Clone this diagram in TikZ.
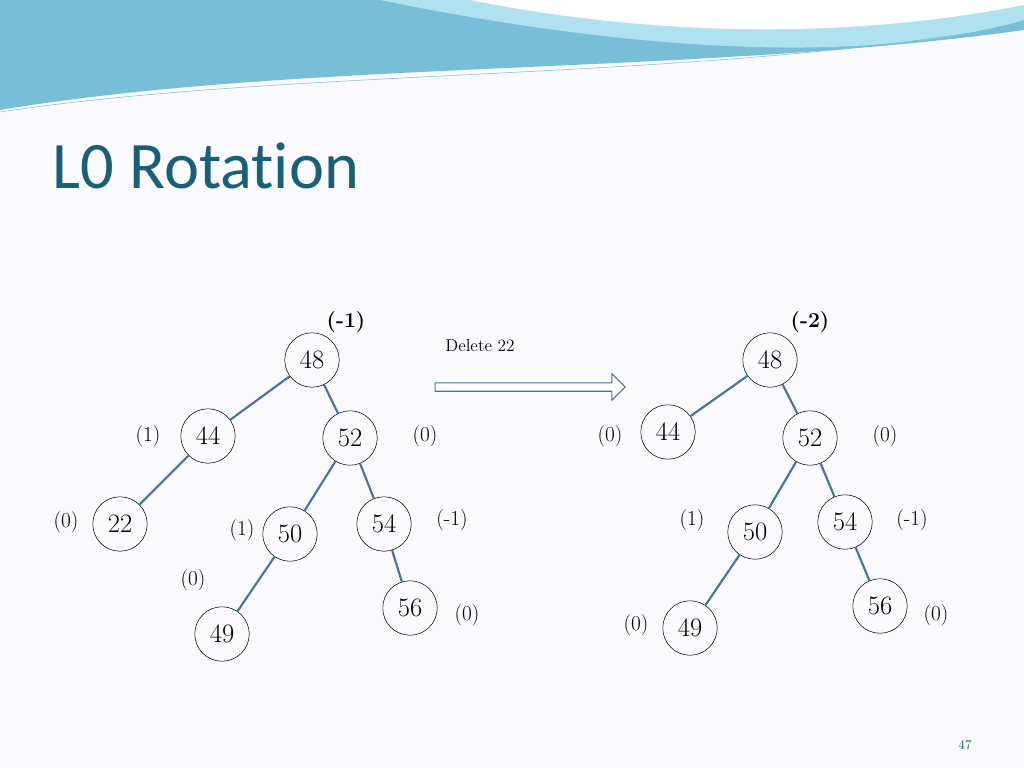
\documentclass[tikz,border=0pt]{standalone}
\usepackage{fontspec}
\newfontfamily\titlefont[Ligatures=NoCommon]{Carlito}
\usetikzlibrary{shapes.arrows}
\definecolor{edgeblue}{RGB}{70,114,170}
\definecolor{titleteal}{RGB}{24,96,120}
\definecolor{wavedark}{RGB}{120,190,215}
\definecolor{wavelight}{RGB}{175,225,240}
\tikzset{key/.style={circle, draw=black, thin, minimum size=41, inner sep=0pt, font=\fontsize{20}{20}\selectfont},
  bal/.style={font=\fontsize{16}{16}\selectfont},
  link/.style={edgeblue, line width=1.6pt}}
\begin{document}
\begin{tikzpicture}[x=0.0264583cm,y=-0.0264583cm]
  \useasboundingbox (0,0) rectangle (1024,768);
  \fill[white!98!blue] (0,0) rectangle (1024,768);
  % header waves
  \fill[wavedark] (0,0) -- (1024,0) -- (1024,30) .. controls (700,75) and (300,60) .. (0,110) -- cycle;
  \fill[wavelight] (380,0) .. controls (600,45) and (850,70) .. (1024,20) -- (1024,0) -- cycle;
  \fill[white] (470,0) .. controls (620,30) and (820,45) .. (1024,5) -- (1024,0) -- cycle;
  \draw[wavedark, thin] (0,112) .. controls (300,67) and (700,82) .. (1024,24);
  \node[anchor=west, text=titleteal, font=\titlefont\fontsize{50}{50}\selectfont] (title) at (48,166) {L0 Rotation};
  % before
  \node[key] (a48) at (312,360) {48};
  \node[key] (a44) at (208,436) {44};
  \node[key] (a52) at (350,438) {52};
  \node[key] (a22) at (120,524) {22};
  \node[key] (a50) at (290,534) {50};
  \node[key] (a54) at (384,524) {54};
  \node[key] (a49) at (222,634) {49};
  \node[key] (a56) at (410,608) {56};
  \foreach \p/\c in {a48/a44,a48/a52,a44/a22,a52/a50,a52/a54,a50/a49,a54/a56}
    \draw[link] (\p) -- (\c);
  \node[bal, font=\bfseries\fontsize{16}{16}\selectfont] (ba48) at (346,322) {(-1)};
  \node[bal] (ba44) at (148,436) {(1)};
  \node[bal] (ba52) at (425,436) {(0)};
  \node[bal] (ba22) at (66,522) {(0)};
  \node[bal] (ba50) at (242,530) {(1)};
  \node[bal] (ba54) at (452,520) {(-1)};
  \node[bal] (ba49) at (193,580) {(0)};
  \node[bal] (ba56) at (467,615) {(0)};
  % arrow
  \node[single arrow, draw=edgeblue, thick, fill=white, minimum height=143, minimum width=20, single arrow head extend=3, inner sep=1pt] (step) at (528,387) {};
  \node[font=\fontsize{13}{13}\selectfont] (del) at (480,346) {Delete 22};
  % after
  \node[key] (b48) at (770,360) {48};
  \node[key] (b44) at (668,432) {44};
  \node[key] (b52) at (810,438) {52};
  \node[key] (b50) at (755,532) {50};
  \node[key] (b54) at (845,522) {54};
  \node[key] (b49) at (690,628) {49};
  \node[key] (b56) at (880,606) {56};
  \foreach \p/\c in {b48/b44,b48/b52,b52/b50,b52/b54,b50/b49,b54/b56}
    \draw[link] (\p) -- (\c);
  \node[bal, font=\bfseries\fontsize{16}{16}\selectfont] (bb48) at (810,322) {(-2)};
  \node[bal] (bb44) at (610,436) {(0)};
  \node[bal] (bb52) at (885,436) {(0)};
  \node[bal] (bb50) at (692,520) {(1)};
  \node[bal] (bb54) at (912,520) {(-1)};
  \node[bal] (bb49) at (636,625) {(0)};
  \node[bal] (bb56) at (936,615) {(0)};
  \node[font=\fontsize{10}{10}\selectfont, text=titleteal] (page) at (965,745) {47};
\end{tikzpicture}
\end{document}
